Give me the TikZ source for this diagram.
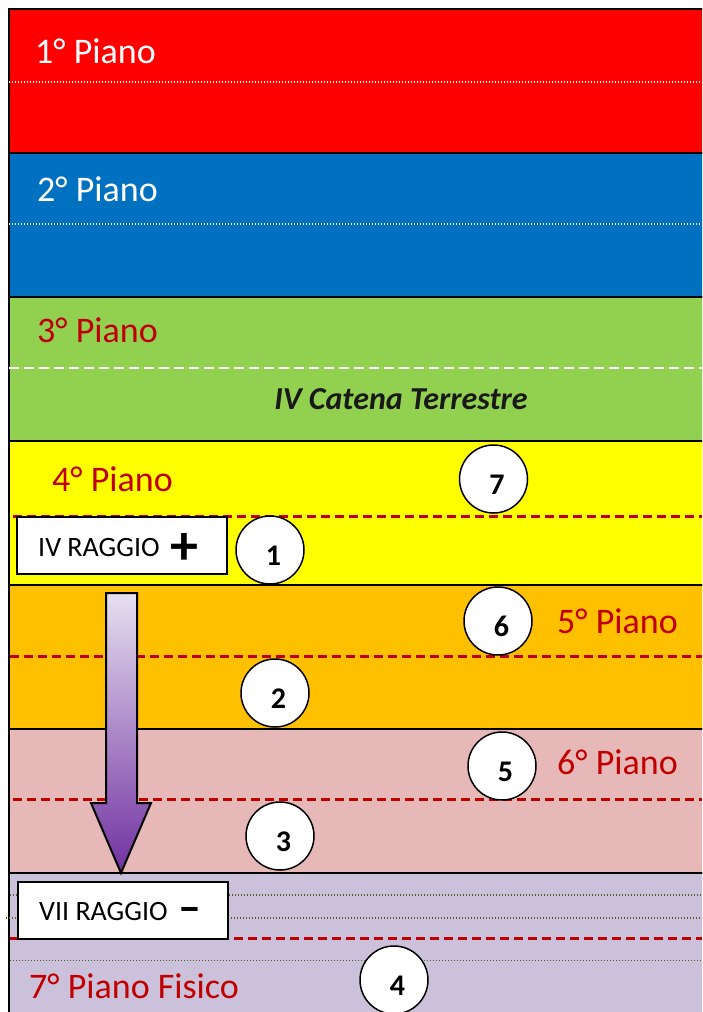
\documentclass[tikz,border=0pt]{standalone}
\usepackage{fontspec}
\setmainfont{Carlito}
\definecolor{pRed}{HTML}{FF0000}
\definecolor{pBlue}{HTML}{0070C0}
\definecolor{pGreen}{HTML}{92D050}
\definecolor{pYellow}{HTML}{FFFF00}
\definecolor{pOrange}{HTML}{FFC000}
\definecolor{pPink}{HTML}{E6B9B8}
\definecolor{pLav}{HTML}{CCC1DA}
\definecolor{dRed}{HTML}{C00000}
\definecolor{olive}{HTML}{4F6228}
\definecolor{arrTop}{HTML}{E6E0F0}
\definecolor{arrBot}{HTML}{7030A0}
\begin{document}
\begin{tikzpicture}[x=1pt,y=-1pt,
  band/.style={draw=black,line width=2pt},
  wdot/.style={draw=white,line width=1.4pt,dash pattern=on 1.4pt off 1.6pt},
  wdash/.style={draw=white,line width=2pt,dash pattern=on 10pt off 5pt},
  rdash/.style={draw=dRed,line width=2.2pt,dash pattern=on 9pt off 5pt},
  odot/.style={draw=olive,line width=1.4pt,dash pattern=on 1.4pt off 1.6pt},
  title/.style={anchor=base west,inner sep=0pt,font=\fontsize{36}{40}\selectfont},
  rbox/.style={draw=black,line width=2pt,fill=white,minimum width=210pt,minimum height=57pt,inner sep=0pt},
  rlbl/.style={anchor=base west,inner sep=0pt,font=\fontsize{28}{30}\selectfont},
  sign/.style={inner sep=0pt,anchor=base,font=\bfseries\fontsize{56}{56}\selectfont},
  ball/.style={circle,draw=black,line width=1.5pt,fill=white,minimum size=68pt,inner sep=0pt},
  num/.style={inner sep=0pt,font=\bfseries\fontsize{30}{30}\selectfont}]
\clip (0,0) rectangle (702,1012);
\fill[white] (0,0) rectangle (702,1012);

% the seven planes, stacked from the top
\foreach \col/\top in {pRed/9,pBlue/153,pGreen/297,pYellow/441,pOrange/585,pPink/729,pLav/873}
  \filldraw[band,fill=\col] (9,\top) rectangle (712,\top+144);

% sub-level separators
\draw[wdot] (9,82) -- (702,82);
\draw[wdot] (9,224) -- (702,224);
\draw[wdash] (9,368) -- (702,368);
\draw[rdash] (13,516.5) -- (702,516.5);
\draw[rdash] (10,656.5) -- (702,656.5);
\draw[rdash] (13,799.5) -- (702,799.5);
\draw[odot] (10,895) -- (702,895);
\draw[odot] (6,918) -- (702,918);
\draw[rdash] (10,938.5) -- (702,938.5);
\draw[odot] (10,960.5) -- (702,960.5);

% plane titles
\node[title,text=white] (p1) at (35,63) {1° Piano};
\node[title,text=white] (p2) at (37,201) {2° Piano};
\node[title,text=dRed] (p3) at (37,342) {3° Piano};
\node[title,text=dRed] (p4) at (52,491) {4° Piano};
\node[title,text=dRed] (p5) at (557,633) {5° Piano};
\node[title,text=dRed] (p6) at (557,774) {6° Piano};
\node[title,text=dRed] (p7) at (29,998) {7° Piano Fisico};
\node[inner sep=0pt,anchor=base,font=\bfseries\itshape\fontsize{32}{34}\selectfont,text=black!90] (chain) at (401,409) {IV Catena Terrestre};

% descending ray arrow
\shadedraw[top color=arrTop,bottom color=arrBot,draw=black,line width=2pt,line join=miter]
  (106,593) -- (137,593) -- (137,803) -- (151,803) -- (121,873) -- (91,803) -- (106,803) -- cycle;

% ray boxes
\node[rbox] (ray4) at (122,545.5) {};
\node[rlbl] (ray4t) at (38,556) {IV RAGGIO};
\node[sign] (ray4s) at (184,564) {+};
\node[rbox] (ray7) at (123,910.5) {};
\node[rlbl] (ray7t) at (39,920) {VII RAGGIO};
\node[sign,font=\bfseries\fontsize{46}{46}\selectfont] (ray7s) at (190,922) {–};

% numbered circles
\foreach \n/\cx/\cy in {7/493.5/479,1/270/550,6/498/621,2/275/693,5/502/766,3/280/836,4/394/980}{
  \node[ball] (c\n) at (\cx,\cy) {};
  \node[num] (n\n) at ([shift={(3.5,5.5)}]c\n.center) {\n};
}
\end{tikzpicture}
\end{document}
